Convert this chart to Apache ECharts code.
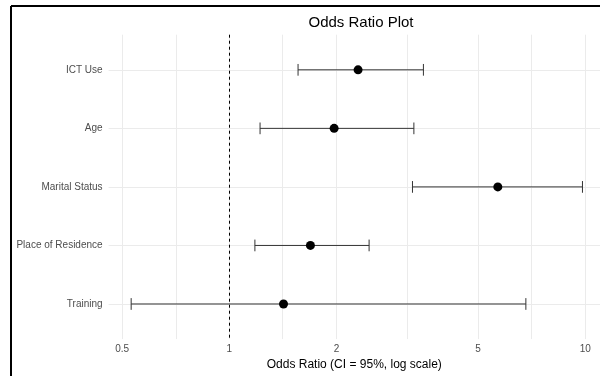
<!DOCTYPE html>
<html>
<head>
<meta charset="utf-8">
<script src="https://cdn.jsdelivr.net/npm/echarts@6/dist/echarts.min.js"></script>
<style>
  html, body { margin: 0; padding: 0; background: #fff; }
  #chart { width: 600px; height: 376px; }
</style>
</head>
<body>
<div id="chart"></div>
<script>
// predictors, top to bottom
const categories = ['ICT Use', 'Age', 'Marital Status', 'Place of Residence', 'Training']
const oddsRatio = [2.30, 1.97, 5.68, 1.69, 1.42]
const ciLower = [1.56, 1.22, 3.27, 1.18, 0.53]
const ciUpper = [3.51, 3.30, 9.82, 2.47, 6.81]
const xTicks = [0.5, 1, 2, 5, 10]
const xMinorTicks = [0.707, 1.414, 3.162, 7.071]

const font = 'Liberation Sans, Arial, sans-serif'
const gridColor = '#ebebeb'

const barData = categories.map((c, i) => [ciLower[i], ciUpper[i], i])
const pointData = categories.map((c, i) => [oddsRatio[i], i])

const gridLines = []
xTicks.concat(xMinorTicks).forEach(v => gridLines.push({ xAxis: v }))
categories.forEach((c, i) => gridLines.push({ yAxis: i }))

const myChart = echarts.init(document.getElementById('chart'))
const option = {
  animation: false,
  backgroundColor: '#fff',
  title: {
    text: 'Odds Ratio Plot',
    left: 356,
    top: 10,
    textAlign: 'center',
    textStyle: { fontFamily: font, fontSize: 15, fontWeight: 'normal', color: '#000' }
  },
  graphic: [
    { type: 'line', shape: { x1: 11, y1: 6, x2: 600, y2: 6 }, style: { stroke: '#000', lineWidth: 2 } },
    { type: 'line', shape: { x1: 11, y1: 6, x2: 11, y2: 376 }, style: { stroke: '#000', lineWidth: 2 } }
  ],
  grid: { left: 108.6, right: 0, top: 34.7, bottom: 35.3 },
  xAxis: {
    type: 'log',
    logBase: 10,
    min: 0.458,
    max: 11.0,
    name: 'Odds Ratio (CI = 95%, log scale)',
    nameLocation: 'middle',
    nameGap: 14,
    nameTextStyle: { fontFamily: font, fontSize: 12, color: '#000' },
    axisLine: { show: false },
    axisTick: { show: false },
    splitLine: { show: false },
    minorSplitLine: { show: false },
    axisLabel: {
      customValues: xTicks,
      margin: 5,
      color: '#4d4d4d',
      fontFamily: font,
      fontSize: 10,
      formatter: v => String(+v.toPrecision(3))
    }
  },
  yAxis: {
    type: 'value',
    min: -0.6,
    max: 4.6,
    inverse: true,
    axisLine: { show: false },
    axisTick: { show: false },
    splitLine: { show: false },
    axisLabel: {
      customValues: [0, 1, 2, 3, 4],
      margin: 6,
      color: '#4d4d4d',
      fontFamily: font,
      fontSize: 10,
      formatter: v => categories[Math.round(v)] || ''
    }
  },
  series: [
    {
      type: 'custom',
      z: 10,
      silent: true,
      encode: { x: [0, 1], y: 2 },
      data: barData,
      renderItem: (params, api) => {
        const lo = api.value(0)
        const hi = api.value(1)
        const idx = api.value(2)
        const pLo = api.coord([lo, idx])
        const pHi = api.coord([hi, idx])
        const capTop = api.coord([lo, idx - 0.1])[1]
        const capBot = api.coord([lo, idx + 0.1])[1]
        const style = { stroke: '#333', lineWidth: 1 }
        return {
          type: 'group',
          children: [
            { type: 'line', shape: { x1: pLo[0], y1: pLo[1], x2: pHi[0], y2: pHi[1] }, style },
            { type: 'line', shape: { x1: pLo[0], y1: capTop, x2: pLo[0], y2: capBot }, style },
            { type: 'line', shape: { x1: pHi[0], y1: capTop, x2: pHi[0], y2: capBot }, style }
          ]
        }
      },
      markLine: {
        z: 1,
        silent: true,
        symbol: 'none',
        label: { show: false },
        lineStyle: { color: gridColor, width: 1, type: 'solid' },
        data: gridLines
      }
    },
    {
      type: 'scatter',
      z: 11,
      silent: true,
      symbol: 'circle',
      symbolSize: 9,
      itemStyle: { color: '#000', opacity: 1 },
      data: pointData,
      markLine: {
        z: 3,
        silent: true,
        symbol: 'none',
        label: { show: false },
        lineStyle: { color: '#000', width: 1, type: [3, 3] },
        data: [{ xAxis: 1 }]
      }
    }
  ]
}
myChart.setOption(option)
</script>
</body>
</html>
